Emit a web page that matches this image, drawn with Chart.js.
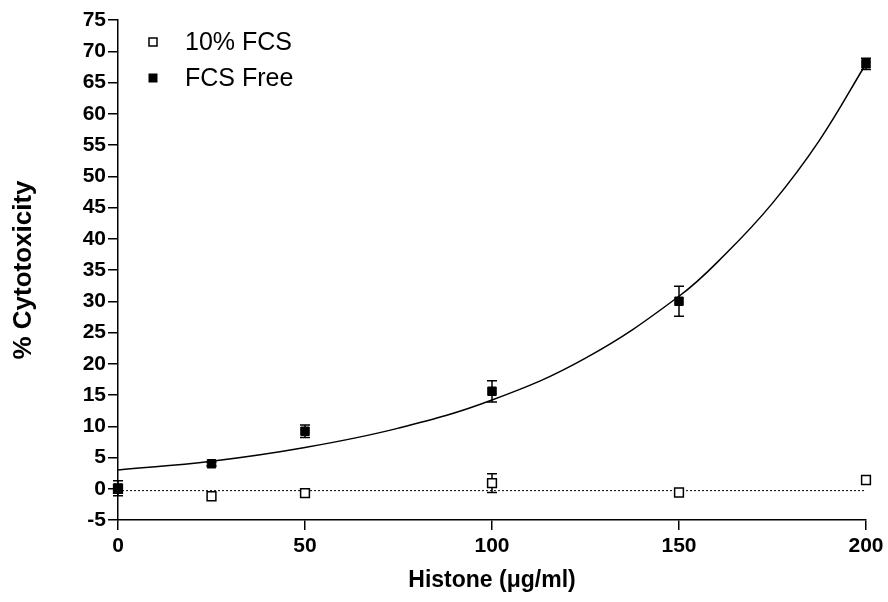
<!DOCTYPE html>
<html>
<head>
<meta charset="utf-8">
<script src="https://cdn.jsdelivr.net/npm/chart.js@4/dist/chart.umd.min.js"></script>
<style>
    html, body { margin: 0; padding: 0; background: #fff; }
</style>
</head>
<body>
<canvas id="cytoChart" width="888" height="602"></canvas>
<script>
// histone dose (ug/ml)
const doses = [0, 25, 50, 100, 150, 200];

// % cytotoxicity, mean and error
const fcs10 = [0, -1.2, -0.7, 0.9, -0.6, 1.4];
const fcs10Err = [0, 0, 0, 1.5, 0, 0];
const fcsFree = [0.1, 4.0, 9.2, 15.6, 30.0, 68.0];
const fcsFreeErr = [1.2, 0.3, 1.0, 1.7, 2.4, 0.9];

// fitted curve for FCS free
const fitX = [0, 25, 50, 75, 100, 125, 150, 162.5, 175, 187.5, 200];
const fitY = [3.0, 4.4, 6.6, 9.7, 14.2, 20.9, 30.8, 37.6, 45.7, 55.7, 68.0];

// flat fit for 10% FCS
const flatX = [0, 200];
const flatY = [-0.3, -0.3];

const yTicks = { min: -5, max: 75, step: 5 };
const xTicks = { min: 0, max: 200, step: 50 };

const FONT = '"Liberation Sans", Arial, sans-serif';

function pts(xs, ys) {
    return xs.map((x, i) => ({ x: x, y: ys[i] }));
}

const errorBars = {
    id: "errorBars",
    beforeDatasetsDraw(chart) {
        const ctx = chart.ctx;
        const yScale = chart.scales.y;
        ctx.save();
        ctx.strokeStyle = "#000";
        ctx.lineWidth = 1.5;
        chart.data.datasets.forEach((ds, di) => {
            if (!ds.errors) return;
            const meta = chart.getDatasetMeta(di);
            meta.data.forEach((el, i) => {
                const err = ds.errors[i];
                if (!err) return;
                const v = ds.data[i].y;
                const top = yScale.getPixelForValue(v + err);
                const bot = yScale.getPixelForValue(v - err);
                const x = el.x;
                ctx.beginPath();
                ctx.moveTo(x, top);
                ctx.lineTo(x, bot);
                ctx.moveTo(x - 5, top);
                ctx.lineTo(x + 5, top);
                ctx.moveTo(x - 5, bot);
                ctx.lineTo(x + 5, bot);
                ctx.stroke();
            });
        });
        ctx.restore();
    }
};

const insideLegend = {
    id: "insideLegend",
    afterDraw(chart) {
        const ctx = chart.ctx;
        const area = chart.chartArea;
        const items = chart.data.datasets.filter(d => d.inLegend);
        ctx.save();
        ctx.font = "25px " + FONT;
        ctx.textBaseline = "middle";
        items.forEach((d, i) => {
            const cy = area.top + 22 + i * 36;
            const cx = area.left + 35;
            ctx.fillStyle = d.backgroundColor;
            ctx.strokeStyle = "#000";
            ctx.lineWidth = d.borderWidth;
            ctx.fillRect(cx - 4, cy - 4, 8, 8);
            ctx.strokeRect(cx - 4, cy - 4, 8, 8);
            ctx.fillStyle = "#000";
            ctx.fillText(d.label, cx + 32, cy + 1);
        });
        ctx.restore();
    }
};

const ctx = document.getElementById("cytoChart").getContext("2d");

const cytoChart = new Chart(ctx, {
    type: "scatter",
    data: {
        datasets: [
            {
                label: "10% FCS",
                inLegend: true,
                data: pts(doses, fcs10),
                errors: fcs10Err,
                pointStyle: "rect",
                pointRadius: 6.2,
                backgroundColor: "#fff",
                borderColor: "#000",
                borderWidth: 1.5,
                clip: false,
                order: 2
            },
            {
                label: "FCS Free",
                inLegend: true,
                data: pts(doses, fcsFree),
                errors: fcsFreeErr,
                pointStyle: "rect",
                pointRadius: 6,
                backgroundColor: "#000",
                borderColor: "#000",
                borderWidth: 1,
                clip: false,
                order: 1
            },
            {
                label: "fit",
                type: "line",
                data: pts(fitX, fitY),
                borderColor: "#000",
                borderWidth: 1.5,
                pointRadius: 0,
                tension: 0.4,
                fill: false,
                clip: false,
                order: 3
            },
            {
                label: "flat",
                type: "line",
                data: pts(flatX, flatY),
                borderColor: "#000",
                borderWidth: 1,
                borderDash: [2, 2],
                pointRadius: 0,
                fill: false,
                order: 4
            }
        ]
    },
    options: {
        responsive: false,
        animation: false,
        layout: { padding: { top: 20, right: 22, left: 0, bottom: 0 } },
        plugins: {
            legend: { display: false },
            tooltip: { enabled: false }
        },
        scales: {
            x: {
                type: "linear",
                min: xTicks.min,
                max: xTicks.max,
                ticks: {
                    stepSize: xTicks.step,
                    color: "#000",
                    padding: 4,
                    font: { family: FONT, size: 21, weight: "bold" }
                },
                grid: {
                    drawOnChartArea: false,
                    drawTicks: true,
                    tickLength: 10,
                    color: "#000",
                    lineWidth: 1.5
                },
                border: { display: true, color: "#000", width: 1.5 },
                title: {
                    display: true,
                    text: "Histone (μg/ml)",
                    color: "#000",
                    font: { family: FONT, size: 23, weight: "bold" },
                    padding: { top: 0, bottom: 8 }
                },
                afterFit: s => { s.height = 82; }
            },
            y: {
                type: "linear",
                min: yTicks.min,
                max: yTicks.max,
                ticks: {
                    stepSize: yTicks.step,
                    color: "#000",
                    padding: 2,
                    font: { family: FONT, size: 21, weight: "bold" }
                },
                grid: {
                    drawOnChartArea: false,
                    drawTicks: true,
                    tickLength: 10,
                    color: "#000",
                    lineWidth: 1.5
                },
                border: { display: true, color: "#000", width: 1.5 },
                title: {
                    display: true,
                    text: "% Cytotoxicity",
                    color: "#000",
                    font: { family: FONT, size: 26, weight: "bold" },
                    padding: { top: 8, bottom: 0 }
                },
                afterFit: s => { s.width = 118; }
            }
        }
    },
    plugins: [errorBars, insideLegend]
});
</script>
</body>
</html>
